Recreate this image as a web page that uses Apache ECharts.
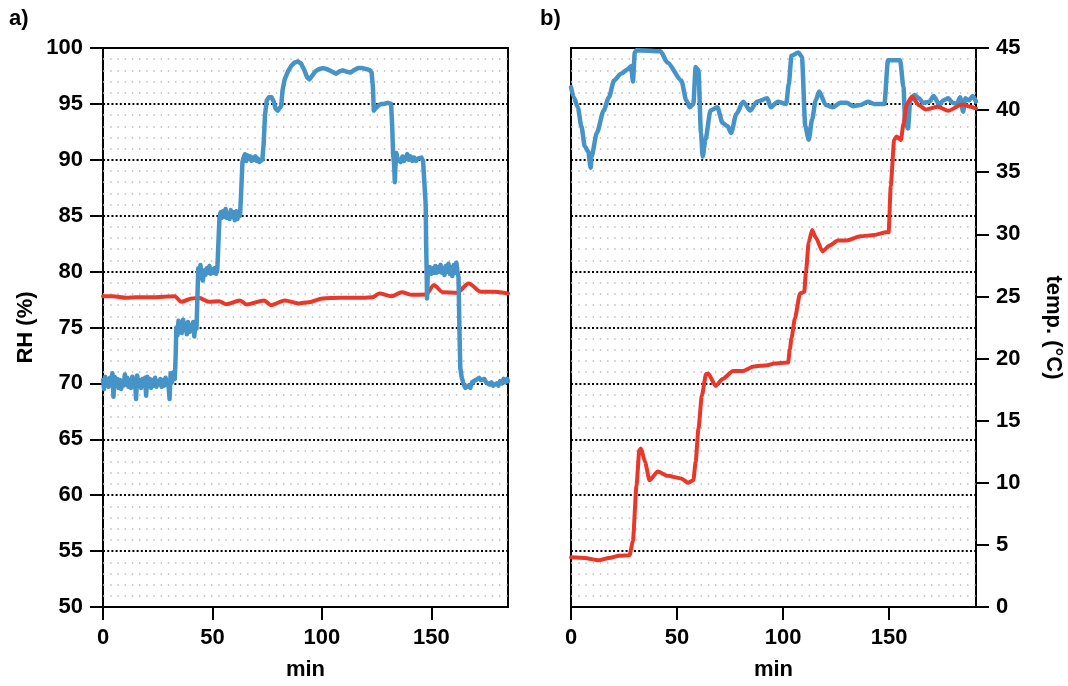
<!DOCTYPE html>
<html>
<head>
<meta charset="utf-8">
<script src="https://cdn.jsdelivr.net/npm/echarts@6/dist/echarts.min.js"></script>
<style>
  html, body { margin: 0; padding: 0; background: #fff; }
  #chart { width: 1068px; height: 686px; }
</style>
</head>
<body>
<div id="chart"></div>
<script>
// panel a) : RH steps at constant temperature   [min, value]
const rhA = [
  [0,70.3],[0.5,69.5],[1,70.6],[1.5,69.8],[2,70.4],[2.6,69.7],[3.2,70.5],[3.8,69.9],[4.3,70.9],[4.8,68.8],
  [5.3,70.6],[5.9,69.8],[6.5,70.4],[7.1,69.6],[7.7,70.3],[8.3,69.5],[8.9,70.2],[9.4,69.8],[10,70.8],[10.5,69.9],
  [11,70.5],[11.6,69.7],[12.2,70.3],[12.8,69.6],[13.4,70.6],[14,69.8],[14.6,70.4],[15.1,68.6],[15.6,70.7],[16.2,69.9],
  [16.8,70.3],[17.4,69.6],[18,70.4],[18.6,69.8],[19.2,70.5],[19.7,68.9],[20.2,70.6],[20.8,69.9],[21.4,70.4],[22,69.6],
  [22.6,70.3],[23.2,69.8],[23.8,70.5],[24.4,69.7],[25,70.2],[25.6,69.9],[26.2,70.4],[26.8,69.7],[27.4,70.3],[28,69.8],
  [28.6,70.5],[29.2,69.9],[29.8,70.2],[30.4,68.6],[30.9,70.9],[31.5,70.1],[32.2,71.0],[32.8,70.4],[33.2,72.5],[33.5,75.0],
  [34,74.3],[34.5,75.6],[35,74.6],[35.5,75.4],[36,74.5],[36.6,75.7],[37.2,74.8],[37.8,75.3],[38.3,74.4],[38.8,75.5],
  [39.4,74.6],[40,75.2],[40.6,74.7],[41.2,75.5],[41.7,74.2],[42.2,75.3],[42.7,74.9],[43.1,77.5],[43.5,80.3],[44,79.5],
  [44.5,80.6],[45,79.6],[45.6,79.2],[46.2,80.1],[46.8,79.7],[47.4,80.3],[48,79.9],[48.6,80.5],[49.2,79.8],[49.8,80.2],
  [50.4,79.9],[51,80.3],[51.6,79.8],[52.2,80.1],[52.7,82.5],[53.2,84.8],[53.7,85.3],[54.2,84.8],[54.8,85.4],[55.4,84.9],
  [56,85.6],[56.6,84.8],[57.2,85.2],[57.8,84.7],[58.4,85.5],[59,84.9],[59.6,85.3],[60.2,84.6],[60.8,85.4],[61.4,84.7],
  [62,85.2],[62.6,85.0],[63.2,87.5],[63.7,89.8],[64.2,90.2],[64.8,90.5],[65.4,89.9],[66,90.4],[66.6,90.1],[67.2,90.3],
  [67.8,89.9],[68.4,90.2],[69,90.0],[69.6,90.3],[70.2,89.9],[70.8,90.1],[71.4,89.8],[72.1,89.7],[72.8,90.0],[73.4,91.5],
  [74,94.0],[74.8,95.3],[75.8,95.6],[77,95.6],[78,95.2],[78.8,94.6],[79.8,94.4],[80.6,94.3],[81.4,94.8],[82,96.2],
  [83,97.2],[84.5,97.9],[86,98.4],[87.5,98.7],[89,98.8],[90.5,98.6],[92,98.0],[93.2,97.4],[94.3,97.2],[95.5,97.5],
  [97,97.9],[98.5,98.1],[100.5,98.2],[102.5,98.1],[104.5,97.9],[106.5,97.7],[108,97.9],[109.5,98.0],[111,97.9],[113,97.8],
  [114.5,98.0],[116.5,98.2],[118.5,98.2],[120.5,98.1],[122,98.0],[122.7,97.8],[123.3,96.5],[123.7,94.4],[124.5,94.6],[125.5,94.8],
  [127,95.0],[128.5,95.0],[130,95.1],[131.6,95.0],[132.1,93.0],[132.5,90.6],[133,89.5],[133.3,88.0],[133.6,89.5],[134,90.6],
  [134.6,90.0],[135.3,90.1],[136,89.8],[136.8,90.3],[137.5,89.9],[138.3,90.2],[139,90.5],[139.7,90.0],[140.5,90.3],[141.3,89.9],
  [142.1,90.2],[143,89.9],[143.8,90.1],[144.6,90.0],[145.4,90.2],[146.2,89.9],[147,89.9],[147.4,86],[147.6,82.5],[147.8,80.5],
  [148,77.6],[148.3,79.5],[148.7,80.0],[149.3,80.4],[150,79.8],[150.6,80.3],[151.2,79.9],[151.8,80.5],[152.4,79.9],[153,80.4],
  [153.6,80.0],[154.2,80.6],[154.8,79.9],[155.4,80.3],[156,79.7],[156.6,80.5],[157.2,80.0],[157.8,80.7],[158.4,79.8],[159,80.4],
  [159.6,79.6],[160.2,80.6],[160.8,79.9],[161.4,80.8],[162,79.9],[162.4,79.5],[162.8,75],[163.2,71.4],[163.8,70.6],[164.6,70.0],
  [165.5,69.6],[166.3,69.5],[167,69.8],[167.8,69.6],[168.6,70.1],[169.5,70.0],[170.3,70.3],[171,70.2],[171.8,70.5],[172.6,70.3],
  [173.4,70.2],[174.2,70.4],[175,70.1],[175.8,70.2],[176.6,69.9],[177.4,70.1],[178.2,69.8],[179,69.7],[179.8,70.0],[180.6,69.8],
  [181.4,70.2],[182.2,70.0],[183,70.4],[183.8,70.1],[184.6,70.4],[185,70.2]
];
const tempA = [
  [0,25.02],[4.4,25.02],[10.7,24.89],[15,24.94],[22.8,24.94],[32.7,25.02],[35.8,24.57],[40.6,24.84],[43.7,24.89],[48.4,24.57],
  [53,24.62],[56.3,24.38],[62.6,24.68],[65.7,24.35],[73.6,24.68],[76.7,24.3],[83,24.68],[89.3,24.44],[94,24.54],[100.3,24.84],
  [108.2,24.89],[119.2,24.89],[123.1,24.94],[126.3,25.24],[131.8,25.02],[136.5,25.34],[141.2,25.13],[147.5,25.16],[151.1,25.9],[155.3,25.34],
  [161.6,25.29],[167.1,26.04],[172.6,25.37],[178.9,25.37],[185,25.24]
];

// panel b) : temperature steps at constant RH
const rhB = [
  [0,96.5],[1.3,95.6],[3.2,94.7],[4.9,93.0],[6.5,91.2],[8.1,90.75],[9.3,89.3],[9.7,90.3],[12.2,92.4],[15.4,94.4],
  [17.9,95.6],[20.3,97.1],[23.6,97.7],[26.8,98.1],[28.4,98.4],[29.2,97.0],[30.1,99.6],[30.9,99.8],[42.2,99.7],[45.5,98.7],
  [52,97.1],[54.4,95.3],[56,94.7],[57.7,95.0],[58.8,98.3],[60.1,98.0],[61.3,92.4],[62.1,90.3],[63.4,91.8],[65.8,94.4],
  [69,94.7],[71.5,93.3],[73.9,93.0],[75.5,92.4],[78,94.1],[81.2,95.2],[84.5,94.4],[87.7,95.2],[92.6,95.5],[94.2,94.7],
  [97.5,95.2],[101.5,95.0],[102.7,96.8],[104,99.3],[107.2,99.6],[108.9,99.2],[110.5,93.0],[112.1,91.8],[113.7,93.6],[115.4,95.3],
  [117,96.1],[120.2,94.9],[123.5,94.7],[127,95.1],[130,95.1],[133,94.8],[136.5,94.9],[140,95.2],[143,95.0],[147.8,95.0],
  [149.5,98.9],[155.2,98.9],[156.8,96.5],[157.6,93.3],[158.9,92.8],[160,95.3],[162,95.8],[164.1,95.5],[166,95.1],[169,95.2],
  [171,95.7],[173.8,94.9],[175.5,95.3],[177.9,95.5],[180,95.1],[182,95.0],[183.5,95.6],[184.9,94.3],[186,95.5],[187.6,95.3],
  [189.5,95.7],[191,95.2]
];
const tempB = [
  [0,4.0],[6.5,3.95],[13,3.76],[17.9,3.95],[22.7,4.13],[27.6,4.16],[29.2,5.3],[30.9,9.8],[32.2,12.6],[33,12.75],
  [34.9,11.7],[37,10.2],[40.9,10.9],[45.5,10.56],[52,10.35],[55.2,10.0],[57.7,10.2],[58.8,11.7],[60.1,14.35],[61.7,17.0],
  [63.7,18.75],[64.7,18.8],[68.2,17.8],[71.5,18.35],[76.4,19.0],[81.2,19.0],[86.1,19.36],[92.6,19.47],[95.9,19.6],[102.4,19.68],
  [103.2,20.75],[104,21.65],[105.6,23.24],[108,25.24],[110,25.37],[110.8,26.97],[112.1,29.36],[113.7,30.35],[115.4,29.76],[118.6,28.62],
  [121.9,29.1],[125.9,29.5],[130,29.5],[136.5,29.84],[143,29.95],[148.7,30.16],[149.8,30.16],[150.8,33.9],[152.4,37.6],[153.5,37.87],
  [155.6,37.6],[156.8,38.9],[158.4,40.5],[160.8,41.1],[164.1,40.4],[167.3,40.05],[173,40.27],[177.9,39.95],[184.4,40.45],[188.5,40.27],
  [191,40.13]
];

const xTicks = [0, 50, 100, 150];

const BLUE = '#4693c8';
const RED = '#e9372a';
const FONT = 'Liberation Sans';

const myChart = echarts.init(document.getElementById('chart'));

const labelStyle = { color: '#000', fontSize: 22, fontWeight: 'bold', fontFamily: FONT };
const majorGrid = { show: true, lineStyle: { color: '#000', width: 2, type: [2, 2.2] } };
const minorGrid = { show: true, lineStyle: { color: '#bcbcbc', width: 1.5, type: [1.5, 5.7] } };

function xAxisFor(gridIndex, max) {
  return {
    type: 'value', gridIndex: gridIndex, min: 0, max: max,
    name: 'min', nameLocation: 'middle', nameGap: 52, nameTextStyle: labelStyle,
    axisLine: { show: false },
    axisTick: { show: true, length: 13, lineStyle: { color: '#000', width: 2 }, customValues: xTicks },
    axisLabel: Object.assign({ margin: 20, customValues: xTicks }, labelStyle),
    splitLine: { show: false }
  };
}

function lineSeries(name, xi, yi, data, color, width, z, smooth) {
  return {
    name: name, type: 'line', xAxisIndex: xi, yAxisIndex: yi, data: data,
    showSymbol: false, smooth: smooth, smoothMonotone: 'x', z: z,
    lineStyle: { color: color, width: width, cap: 'round', join: 'round' }
  };
}

const option = {
  animation: false,
  backgroundColor: '#fff',
  graphic: [
    { type: 'text', left: 9, top: 8, style: { text: 'a)', fontSize: 22, fontWeight: 'bold', fontFamily: FONT, fill: '#000' } },
    { type: 'text', left: 540, top: 8, style: { text: 'b)', fontSize: 22, fontWeight: 'bold', fontFamily: FONT, fill: '#000' } }
  ],
  grid: [
    { left: 103, top: 48, width: 405, height: 561, show: true, borderColor: '#000', borderWidth: 2, backgroundColor: 'transparent' },
    { left: 571, top: 48, width: 405, height: 561, show: true, borderColor: '#000', borderWidth: 2, backgroundColor: 'transparent' }
  ],
  xAxis: [ xAxisFor(0, 185), xAxisFor(1, 191) ],
  yAxis: [
    {
      type: 'value', gridIndex: 0, min: 50, max: 100, interval: 5,
      name: 'RH (%)', nameLocation: 'middle', nameGap: 66, nameRotate: 90, nameTextStyle: labelStyle,
      axisLine: { show: false },
      axisTick: { show: true, length: 13, lineStyle: { color: '#000', width: 2 } },
      axisLabel: Object.assign({ margin: 20 }, labelStyle),
      splitLine: majorGrid,
      minorTick: { show: false, splitNumber: 5 },
      minorSplitLine: minorGrid
    },
    { type: 'value', gridIndex: 0, min: 0, max: 45, show: false, splitLine: { show: false } },
    {
      type: 'value', gridIndex: 1, min: 50, max: 100, interval: 5, position: 'left',
      axisLine: { show: false }, axisTick: { show: false }, axisLabel: { show: false },
      splitLine: majorGrid,
      minorTick: { show: false, splitNumber: 5 },
      minorSplitLine: minorGrid
    },
    {
      type: 'value', gridIndex: 1, min: 0, max: 45, interval: 5, position: 'right',
      name: 'temp. (°C)', nameLocation: 'middle', nameGap: 66, nameRotate: -90, nameTextStyle: labelStyle,
      axisLine: { show: false },
      axisTick: { show: true, length: 13, lineStyle: { color: '#000', width: 2 } },
      axisLabel: Object.assign({ margin: 20 }, labelStyle),
      splitLine: { show: false }
    }
  ],
  series: [
    lineSeries('temp a', 0, 1, tempA, RED, 4, 3, 0.3),
    lineSeries('RH a', 0, 0, rhA, BLUE, 4.5, 4, false),
    lineSeries('RH b', 1, 2, rhB, BLUE, 4.5, 3, 0.25),
    lineSeries('temp b', 1, 3, tempB, RED, 4, 4, 0.2)
  ]
};

myChart.setOption(option);
</script>
</body>
</html>
